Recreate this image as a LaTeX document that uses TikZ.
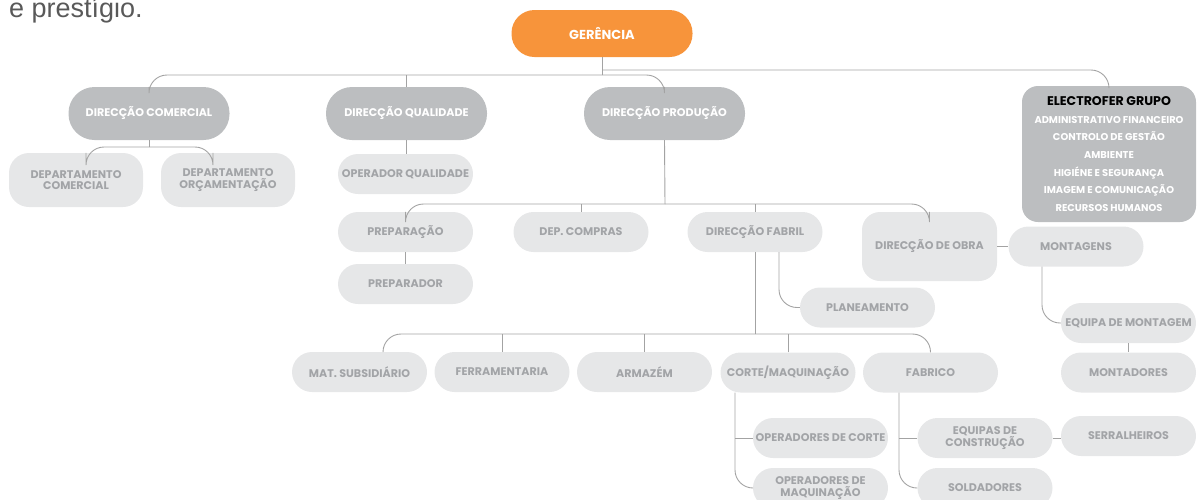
\documentclass[tikz,border=0pt]{standalone}
\usepackage{fontspec}
\setmainfont{Poppins}
\newfontfamily\introfont{Liberation Sans}
\usepackage{tikz}
\usetikzlibrary{positioning}

\definecolor{orgorange}{HTML}{F7943B}
\definecolor{darkpill}{HTML}{BCBEC0}
\definecolor{lightpill}{HTML}{E6E7E8}
\definecolor{pilltext}{HTML}{A2A4A7}
\definecolor{linkgray}{HTML}{A3A3A3}
\definecolor{introgray}{HTML}{595959}

\begin{document}
\begin{tikzpicture}[x=1pt,y=-1pt,
  pill/.style={rectangle,rounded corners=20,fill=lightpill,text=pilltext,
    font=\bfseries\fontsize{11.1}{11.5}\selectfont,align=center,inner sep=0,
    minimum width=135,minimum height=40},
  darkpill/.style={pill,fill=darkpill,text=white,rounded corners=26,
    minimum width=161,minimum height=53},
  link/.style={draw=linkgray,line width=0.9pt,rounded corners=18}]
\useasboundingbox (0,0) rectangle (1203,499);
\clip (0,0) rectangle (1203,499);

\node[anchor=base west,text=introgray,font=\introfont\fontsize{27}{27}\selectfont,inner sep=0] (intro) at (9,17) {e prestígio.};

% top level
\node[darkpill,fill=orgorange,minimum width=181,minimum height=47,rounded corners=23,
  font=\bfseries\fontsize{13}{13}\selectfont] (ger) at (602,33.5) {GERÊNCIA};
\node[darkpill] (dcom) at (149,113.5) {DIRECÇÃO COMERCIAL};
\node[darkpill] (dqual) at (406.5,113.5) {DIRECÇÃO QUALIDADE};
\node[darkpill] (dprod) at (664.5,113.5) {DIRECÇÃO PRODUÇÃO};
\node[darkpill,minimum width=174,minimum height=136,rounded corners=16,
  font=\bfseries\fontsize{9.9}{17.6}\selectfont] (grupo) at (1109,154) {%
  {\color{black}\fontsize{12.6}{12}\selectfont ELECTROFER GRUPO}\\
  ADMINISTRATIVO FINANCEIRO\\CONTROLO DE GESTÃO\\AMBIENTE\\
  HIGIÉNE E SEGURANÇA\\IMAGEM E COMUNICAÇÃO\\RECURSOS HUMANOS};

% second level
\node[pill,minimum width=134,minimum height=54] (dcomer) at (76,180) {DEPARTAMENTO\\COMERCIAL};
\node[pill,minimum width=134,minimum height=54] (dorc) at (228,180) {DEPARTAMENTO\\ORÇAMENTAÇÃO};
\node[pill] (opqual) at (405.5,174) {OPERADOR QUALIDADE};

% producao
\node[pill] (prep) at (405.5,232) {PREPARAÇÃO};
\node[pill] (compras) at (581,232) {DEP. COMPRAS};
\node[pill] (dfabril) at (755,232) {DIRECÇÃO FABRIL};
\node[pill,minimum height=69,rounded corners=18] (dobra) at (929.5,246.5) {DIRECÇÃO DE OBRA};
\node[pill] (montagens) at (1076,246.5) {MONTAGENS};
\node[pill] (preparador) at (405.5,284) {PREPARADOR};
\node[pill] (planeamento) at (867.5,307.5) {PLANEAMENTO};
\node[pill] (eqmont) at (1128.5,323) {EQUIPA DE MONTAGEM};

\node[pill] (matsub) at (359.5,372) {MAT. SUBSIDIÁRIO};
\node[pill] (ferram) at (502,372) {FERRAMENTARIA};
\node[pill] (armazem) at (644.5,372) {ARMAZÉM};
\node[pill] (corte) at (788,372.5) {CORTE/MAQUINAÇÃO};
\node[pill] (fabrico) at (930.5,372.5) {FABRICO};
\node[pill] (montadores) at (1128.5,372.5) {MONTADORES};

\node[pill] (opcorte) at (820.5,438) {OPERADORES DE CORTE};
\node[pill] (opmaq) at (820.5,488) {OPERADORES DE\\MAQUINAÇÃO};
\node[pill] (eqcons) at (985,438) {EQUIPAS DE\\CONSTRUÇÃO};
\node[pill] (serralh) at (1128.5,436) {SERRALHEIROS};
\node[pill] (soldadores) at (985,488) {SOLDADORES};

% connectors
\coordinate (bus0) at (602,70);
\coordinate (bus1) at (602,75);
\draw[link] (ger.south) -- (bus1);
\draw[link] (bus1) -| (dcom.north);
\draw[link] (bus1) -| (dprod.north);
\draw[link] (bus0) -| (grupo.north);
\draw[link] (dqual.north) -- (dqual.north |- bus1);

\coordinate (bus2) at (149,147);
\draw[link] (dcom.south) -- (bus2);
\draw[link] (bus2) -| ([xshift=10]dcomer.north);
\draw[link] (bus2) -| ([xshift=-15]dorc.north);
\draw[link] (dqual.south) -- (dqual.south |- opqual.north);

\coordinate (bus3) at (665,204);
\draw[link] (dprod.south) -- (bus3);
\draw[link] (bus3) -| (prep.north);
\draw[link] (bus3) -| (dobra.north);
\draw[link] (compras.north) -- (compras.north |- bus3);
\draw[link] (dfabril.north) -- (dfabril.north |- bus3);
\draw[link] (prep.south) -- (preparador.north);
\draw[link] (dobra.east |- montagens.west) -- (montagens.west);

\draw[link] ([xshift=24]dfabril.south) |- (planeamento.west);
\coordinate (bus4) at (755,334);
\draw[link] (dfabril.south) -- (bus4);
\draw[link] (bus4) -| ([xshift=23.5]matsub.north);
\draw[link] (bus4) -| (fabrico.north);
\draw[link] (ferram.north) -- (ferram.north |- bus4);
\draw[link] (armazem.north) -- (armazem.north |- bus4);
\draw[link] (corte.north) -- (corte.north |- bus4);

\draw[link] ([xshift=-34]montagens.south) |- (eqmont.west);
\draw[link] (eqmont.south) -- (montadores.north);

\coordinate (cbr) at ([xshift=-53]corte.south);
\draw[link] (cbr) |- (opmaq.west);
\draw[link] (opcorte.west) -- (opcorte.west -| cbr);
\coordinate (fbr) at ([xshift=-31.5]fabrico.south);
\draw[link] (fbr) |- (soldadores.west);
\draw[link] (eqcons.west) -- (eqcons.west -| fbr);
\draw[link] (eqcons.east) -- (eqcons.east -| serralh.west);
\end{tikzpicture}
\end{document}
